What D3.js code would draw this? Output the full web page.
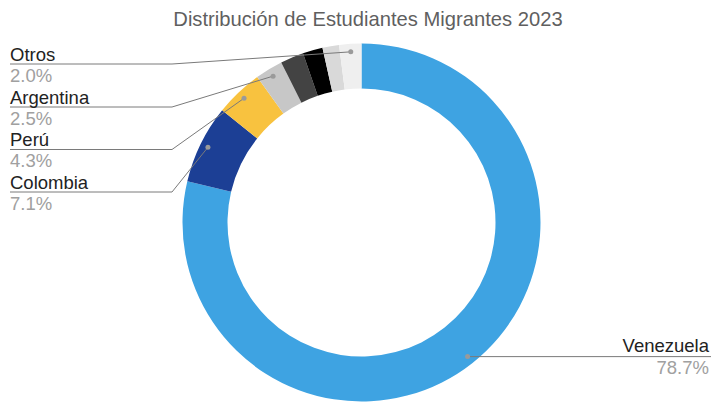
<!DOCTYPE html>
<html>
<head>
<meta charset="utf-8">
<script src="https://cdn.jsdelivr.net/npm/d3@7"></script>
<style>
  html, body { margin: 0; padding: 0; background: #fff; }
  svg { display: block; font-family: "Liberation Sans", Arial, sans-serif; }
</style>
</head>
<body>
<svg id="chart" width="711" height="404"></svg>
<script>
// ---- Data ----
const title = "Distribución de Estudiantes Migrantes 2023";
const categories = ["Venezuela", "Colombia", "Perú", "Argentina", "Otro A", "Otro B", "Otro C", "Otros"];
const values = [78.7, 7.1, 4.3, 2.5, 2.1, 1.8, 1.5, 2.0];
const showLabel = [true, true, true, true, false, false, false, true];
const colors = ["#3ea3e2", "#1c3f95", "#f8c23f", "#c7c7c7", "#434343", "#000000", "#d9d9d9", "#efefef"];

// ---- Layout ----
const svg = d3.select("#chart");
const cx = 361.5, cy = 222.5, rOuter = 179, rInner = 134, rDot = 171;
const labelSize = 18.5;

svg.append("text")
  .attr("x", 368).attr("y", 26)
  .attr("text-anchor", "middle")
  .attr("font-size", 20.2)
  .attr("fill", "#5f5f5f")
  .text(title);

const data = categories.map((c, i) => ({ name: c, value: values[i], color: colors[i], show: showLabel[i] }));
const pie = d3.pie().value(d => d.value).sort(null).startAngle(0).endAngle(2 * Math.PI);
const arcs = pie(data);
const arc = d3.arc().innerRadius(rInner).outerRadius(rOuter);
const dotArc = d3.arc().innerRadius(rDot).outerRadius(rDot);

const g = svg.append("g").attr("transform", `translate(${cx},${cy})`);
g.selectAll("path.slice").data(arcs).enter().append("path")
  .attr("class", "slice")
  .attr("d", arc)
  .attr("fill", d => d.data.color);

// ---- Labels ----
const fmt = v => v.toFixed(1) + "%";
const leftLabels = ["Otros", "Argentina", "Perú", "Colombia"];
const leftBaselines = [60.5, 103.5, 146, 188.5];
const labelLayer = svg.append("g");

arcs.forEach(a => {
  if (!a.data.show) return;
  const [dx, dy] = dotArc.centroid(a);
  const px = cx + dx, py = cy + dy;
  const li = leftLabels.indexOf(a.data.name);
  if (li >= 0) {
    const base = leftBaselines[li];
    const ly = base + 3.5;
    labelLayer.append("polyline")
      .attr("points", `10,${ly} 172,${ly} ${px},${py}`)
      .attr("fill", "none").attr("stroke", "#7a7a7a").attr("stroke-width", 1);
    labelLayer.append("text").attr("x", 10).attr("y", base)
      .attr("font-size", labelSize).attr("fill", "#222").text(a.data.name);
    labelLayer.append("text").attr("x", 10).attr("y", base + 21)
      .attr("font-size", labelSize).attr("fill", "#a0a0a0").text(fmt(a.data.value));
  } else {
    // right side label (Venezuela)
    labelLayer.append("line")
      .attr("x1", px).attr("y1", py).attr("x2", 711).attr("y2", py)
      .attr("stroke", "#7a7a7a").attr("stroke-width", 1);
    labelLayer.append("text").attr("x", 709).attr("y", py - 5)
      .attr("text-anchor", "end").attr("font-size", labelSize).attr("fill", "#222").text(a.data.name);
    labelLayer.append("text").attr("x", 709).attr("y", py + 17)
      .attr("text-anchor", "end").attr("font-size", labelSize).attr("fill", "#a0a0a0").text(fmt(a.data.value));
  }
  labelLayer.append("circle").attr("cx", px).attr("cy", py).attr("r", 2.5)
    .attr("fill", "#9a9a9a");
});
</script>
</body>
</html>
